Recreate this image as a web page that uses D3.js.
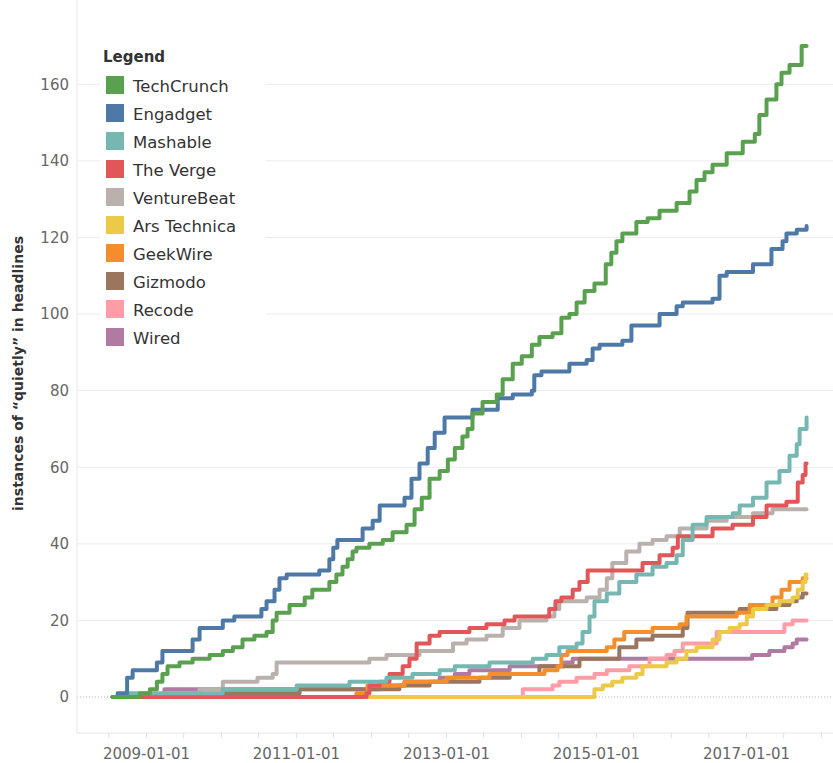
<!DOCTYPE html>
<html>
<head>
<meta charset="utf-8">
<script src="https://cdn.jsdelivr.net/npm/d3@7"></script>
<style>
  body { margin: 0; background: #fff; }
  svg text { font-family: "DejaVu Sans", sans-serif; }
</style>
</head>
<body>
<svg id="chart" width="833" height="763"></svg>
<script>
// cumulative count of "quietly" in headlines, per publication: [date, count]
const techCrunch = [
  ["2008-07-22",0],["2008-12-02",1],["2009-01-20",2],["2009-02-23",4],["2009-03-22",6],["2009-04-16",8],
  ["2009-06-13",9],["2009-08-16",10],["2009-11-07",11],["2010-01-10",12],["2010-02-28",13],["2010-04-16",15],
  ["2010-06-13",16],["2010-08-11",17],["2010-09-10",20],["2010-09-29",22],["2010-12-01",24],["2011-02-13",26],
  ["2011-03-22",28],["2011-06-13",30],["2011-07-17",32],["2011-08-16",34],["2011-09-10",36],["2011-10-04",38],
  ["2011-10-23",39],["2011-12-25",40],["2012-02-28",41],["2012-04-16",43],["2012-06-23",45],["2012-08-01",49],
  ["2012-09-05",52],["2012-10-13",57],["2012-12-01",59],["2013-01-10",62],["2013-02-13",65],["2013-03-22",68],
  ["2013-04-16",70],["2013-05-10",74],["2013-06-28",77],["2013-09-05",79],["2013-10-04",83],["2013-11-22",87],
  ["2014-01-05",89],["2014-02-23",92],["2014-04-01",94],["2014-06-04",95],["2014-07-17",99],["2014-08-25",100],
  ["2014-09-29",103],["2014-11-07",106],["2014-12-25",108],["2015-02-18",113],["2015-03-17",116],["2015-04-11",119],
  ["2015-05-10",121],["2015-07-17",124],["2015-09-10",125],["2015-11-07",127],["2016-01-29",129],["2016-04-01",132],
  ["2016-05-05",135],["2016-06-13",137],["2016-07-22",139],["2016-09-29",142],["2016-12-16",145],["2017-02-13",147],
  ["2017-03-07",152],["2017-04-11",156],["2017-05-29",160],["2017-06-23",163],["2017-08-01",165],["2017-09-29",170],
  ["2017-10-23",170]
];
const engadget = [
  ["2008-07-22",0],["2008-08-16",1],["2008-10-01",5],["2008-10-28",7],["2009-02-23",9],["2009-03-22",12],
  ["2009-08-16",15],["2009-09-19",18],["2010-01-10",20],["2010-03-07",21],["2010-07-17",23],["2010-08-11",25],
  ["2010-09-19",28],["2010-10-13",31],["2010-11-17",32],["2011-04-25",33],["2011-06-13",36],["2011-07-02",39],
  ["2011-07-22",41],["2011-11-22",44],["2012-01-10",46],["2012-02-13",50],["2012-06-13",52],["2012-07-17",57],
  ["2012-08-25",61],["2012-10-04",65],["2012-11-07",69],["2012-12-25",73],["2013-05-10",75],["2013-09-10",78],
  ["2013-11-22",79],["2014-02-23",80],["2014-03-07",84],["2014-04-11",85],["2014-08-25",87],["2014-11-17",88],
  ["2014-12-16",91],["2015-01-19",92],["2015-05-10",93],["2015-06-23",97],["2015-11-07",100],["2016-01-29",102],
  ["2016-02-28",103],["2016-07-22",104],["2016-08-25",110],["2016-09-29",111],["2017-02-04",113],["2017-05-05",117],
  ["2017-06-28",119],["2017-07-17",121],["2017-09-05",122],["2017-10-23",123]
];
const mashable = [
  ["2008-07-22",0],["2008-10-01",1],["2010-01-10",2],["2011-01-05",3],["2011-09-19",4],["2012-03-17",5],
  ["2012-07-22",6],["2012-12-01",7],["2013-02-13",8],["2013-08-01",9],["2014-02-28",10],["2014-05-05",11],
  ["2014-07-07",13],["2014-09-29",14],["2014-10-28",17],["2014-12-01",21],["2014-12-25",25],["2015-02-23",27],
  ["2015-04-25",30],["2015-07-17",32],["2015-10-04",34],["2015-12-11",35],["2016-01-29",37],["2016-02-28",41],
  ["2016-04-16",45],["2016-06-23",47],["2016-10-28",48],["2016-12-01",50],["2017-02-04",52],["2017-04-11",56],
  ["2017-06-13",59],["2017-08-01",63],["2017-09-05",66],["2017-09-19",70],["2017-10-23",73]
];
const theVerge = [
  ["2008-07-22",0],["2011-12-11",1],["2011-12-25",3],["2012-02-13",4],["2012-04-01",6],["2012-06-04",8],
  ["2012-07-07",10],["2012-08-11",14],["2012-10-13",16],["2012-12-01",17],["2013-04-25",18],["2013-07-17",19],
  ["2013-10-13",20],["2013-12-01",21],["2014-05-19",23],["2014-06-18",25],["2014-07-17",26],["2014-09-10",28],
  ["2014-10-13",30],["2014-11-22",33],["2015-08-16",35],["2015-11-07",37],["2016-01-10",39],["2016-02-04",42],
  ["2016-07-22",44],["2016-10-28",45],["2017-02-04",47],["2017-04-11",50],["2017-07-17",51],["2017-09-10",56],
  ["2017-10-04",58],["2017-10-18",61],["2017-10-23",61]
];
const ventureBeat = [
  ["2008-07-22",0],["2009-04-01",1],["2009-09-19",2],["2010-01-10",4],["2010-06-28",5],["2010-09-10",6],
  ["2010-09-29",9],["2011-12-25",10],["2012-03-17",11],["2012-08-25",12],["2013-02-04",14],["2013-04-11",15],
  ["2013-07-17",16],["2013-10-04",18],["2013-12-25",20],["2014-05-05",21],["2014-06-13",23],["2014-07-07",25],
  ["2014-11-17",26],["2015-01-19",28],["2015-02-23",31],["2015-03-22",35],["2015-05-29",38],["2015-08-01",40],
  ["2015-10-04",41],["2015-12-11",42],["2016-02-13",44],["2016-06-23",46],["2016-09-29",47],["2017-02-04",48],
  ["2017-05-10",49],["2017-10-23",49]
];
const arsTechnica = [
  ["2008-07-22",0],["2014-12-16",0],["2014-12-25",2],["2015-02-04",3],["2015-03-22",4],["2015-05-10",5],
  ["2015-07-17",6],["2015-08-16",8],["2015-12-11",9],["2016-01-29",10],["2016-03-17",12],["2016-05-05",13],
  ["2016-07-22",15],["2016-08-25",17],["2016-10-13",18],["2016-12-01",19],["2017-01-05",21],["2017-02-04",23],
  ["2017-04-11",24],["2017-06-13",25],["2017-08-16",26],["2017-09-10",28],["2017-10-04",30],["2017-10-18",32],
  ["2017-10-23",32]
];
const geekWire = [
  ["2011-04-11",0],["2011-10-23",1],["2011-12-16",3],["2012-06-13",4],["2013-01-05",5],["2013-08-01",6],
  ["2014-04-25",7],["2014-06-28",8],["2014-07-17",11],["2014-08-16",12],["2015-02-23",13],["2015-04-01",15],
  ["2015-05-19",17],["2015-10-04",18],["2016-02-13",19],["2016-03-17",21],["2016-11-17",22],["2017-01-19",24],
  ["2017-05-10",26],["2017-06-23",28],["2017-08-01",30],["2017-10-04",31],["2017-10-23",31]
];
const gizmodo = [
  ["2008-07-22",0],["2010-01-19",1],["2011-01-19",2],["2012-05-19",3],["2012-10-13",4],["2013-06-13",5],
  ["2013-11-07",6],["2014-04-01",8],["2014-10-13",10],["2015-04-25",13],["2015-07-17",15],["2015-10-04",16],
  ["2016-02-28",18],["2016-03-22",22],["2016-12-01",23],["2017-05-29",24],["2017-08-01",25],["2017-09-05",26],
  ["2017-10-04",27],["2017-10-23",27]
];
const recode = [
  ["2014-01-01",0],["2014-01-10",2],["2014-06-04",3],["2014-07-07",4],["2014-09-29",5],["2014-12-25",6],
  ["2015-02-23",7],["2015-06-13",8],["2015-09-19",10],["2015-12-11",11],["2016-01-19",12],["2016-02-28",14],
  ["2016-08-11",17],["2017-07-07",19],["2017-08-16",20],["2017-10-23",20]
];
const wired = [
  ["2008-07-22",0],["2009-04-01",2],["2012-02-13",3],["2012-06-13",4],["2012-12-01",5],["2013-02-13",6],
  ["2013-04-25",7],["2013-11-07",8],["2014-08-01",9],["2014-09-10",10],["2017-01-31",11],["2017-04-25",12],
  ["2017-07-07",13],["2017-08-16",14],["2017-09-05",15],["2017-10-23",15]
];

const publications = ["TechCrunch","Engadget","Mashable","The Verge","VentureBeat","Ars Technica","GeekWire","Gizmodo","Recode","Wired"];
const seriesData = [techCrunch, engadget, mashable, theVerge, ventureBeat, arsTechnica, geekWire, gizmodo, recode, wired];
const colors = ["#59a14f","#4e79a7","#76b7b2","#e15759","#bab0ac","#edc948","#f28e2b","#9c755f","#ff9da7","#b07aa1"];
const yTicks = [0,20,40,60,80,100,120,140,160];
const xTickLabels = ["2009-01-01","2011-01-01","2013-01-01","2015-01-01","2017-01-01"];

const svg = d3.select("#chart");
const width = 833, height = 763;
const plotLeft = 77, plotRight = 833, plotTop = 0, plotBottom = 733;
const parse = d3.timeParse("%Y-%m-%d");

const x = d3.scaleTime()
    .domain([parse("2009-01-01"), parse("2017-01-01")])
    .range([146, 746]);
const y = d3.scaleLinear()
    .domain([-9.4, 182])
    .range([plotBottom, plotTop]);

// gridlines
svg.append("g").selectAll("line").data(yTicks.filter(d => d > 0)).enter().append("line")
    .attr("x1", plotLeft).attr("x2", plotRight)
    .attr("y1", d => y(d)).attr("y2", d => y(d))
    .attr("stroke", "#ececec").attr("stroke-width", 1);

// zero reference line
svg.append("line")
    .attr("x1", plotLeft).attr("x2", plotRight)
    .attr("y1", y(0)).attr("y2", y(0))
    .attr("stroke", "#b5b5b5").attr("stroke-width", 1).attr("stroke-dasharray", "1,2");

// axis lines
svg.append("line").attr("x1", plotLeft).attr("x2", plotLeft).attr("y1", plotTop).attr("y2", plotBottom)
    .attr("stroke", "#e6e6e6");
svg.append("line").attr("x1", plotLeft).attr("x2", plotRight).attr("y1", plotBottom).attr("y2", plotBottom)
    .attr("stroke", "#e6e6e6");

// y axis labels
const yAxis = d3.axisLeft(y).tickValues(yTicks).tickSize(0).tickPadding(8);
const gy = svg.append("g").attr("transform", `translate(${plotLeft},0)`).call(yAxis);
gy.select(".domain").remove();
gy.selectAll("text").attr("font-size", 15).attr("fill", "#666").attr("font-family", "DejaVu Sans, sans-serif");

// x axis: half-year ticks, labels every two years
const halfYears = d3.timeMonth.every(6).range(parse("2008-01-01"), parse("2018-03-01"))
    .filter(d => x(d) > plotLeft && x(d) < plotRight);
const xAxis = d3.axisBottom(x).tickValues(halfYears).tickSize(5).tickPadding(10)
    .tickFormat(d => {
        const s = d3.timeFormat("%Y-%m-%d")(d);
        return xTickLabels.includes(s) ? s : "";
    });
const gx = svg.append("g").attr("transform", `translate(0,${plotBottom})`).call(xAxis);
gx.select(".domain").remove();
gx.selectAll("line").attr("stroke", "#e0e0e0");
gx.selectAll("text").attr("font-size", 15).attr("fill", "#666").attr("font-family", "DejaVu Sans, sans-serif");

// y axis title
svg.append("text")
    .attr("transform", `translate(23,${(plotTop + plotBottom) / 2 + 7}) rotate(-90)`)
    .attr("text-anchor", "middle")
    .attr("font-size", 14).attr("font-weight", "bold").attr("fill", "#333")
    .text("instances of “quietly” in headlines");

// lines
const line = d3.line()
    .curve(d3.curveStepAfter)
    .x(d => x(parse(d[0])))
    .y(d => y(d[1]));

const order = d3.range(publications.length).reverse();
svg.append("g").selectAll("path").data(order).enter().append("path")
    .attr("d", i => line(seriesData[i]))
    .attr("fill", "none")
    .attr("stroke", i => colors[i])
    .attr("stroke-width", 4)
    .attr("stroke-linejoin", "round")
    .attr("stroke-linecap", "round");

// legend
const legend = svg.append("g");
legend.append("rect").attr("x", 100).attr("y", 40).attr("width", 166).attr("height", 315).attr("fill", "#fff");
legend.append("text").attr("x", 103).attr("y", 62)
    .attr("font-size", 15).attr("font-weight", "bold").attr("fill", "#333").text("Legend");
const rows = legend.selectAll("g.row").data(publications).enter().append("g")
    .attr("transform", (d, i) => `translate(106,${76 + i * 28})`);
rows.append("rect").attr("width", 18).attr("height", 18).attr("fill", (d, i) => colors[i]);
rows.append("text").attr("x", 27).attr("y", 16)
    .attr("font-size", 16.5).attr("fill", "#333").text(d => d);
</script>
</body>
</html>
